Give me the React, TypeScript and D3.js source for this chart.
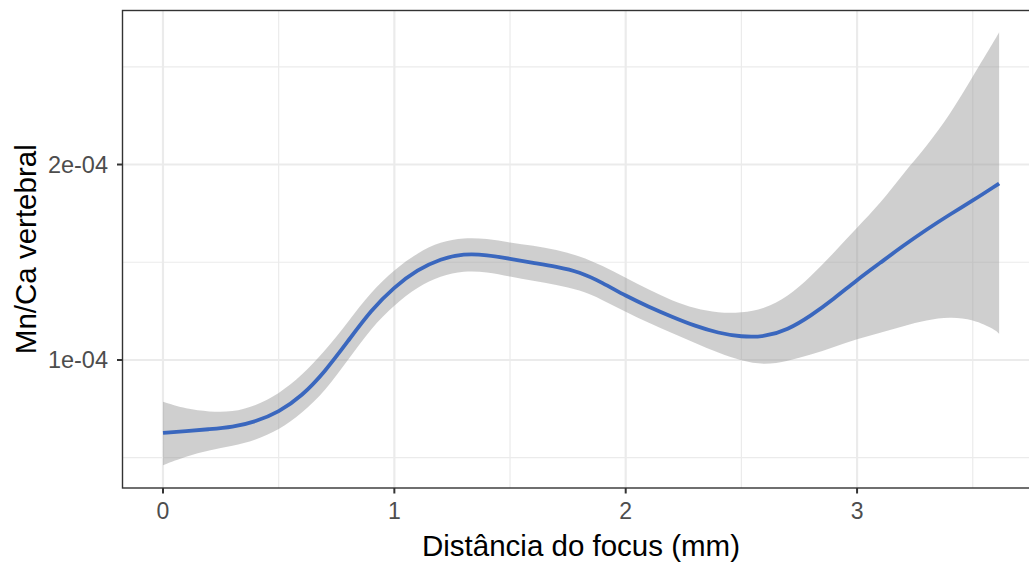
import React from 'react';
import * as d3 from 'd3';

// smooth fit, y in units of 1e-04
const xs = [0, 0.1, 0.2, 0.3, 0.4, 0.5, 0.6, 0.7, 0.8, 0.9, 1.0, 1.1, 1.2, 1.3, 1.4, 1.5, 1.6, 1.7, 1.8, 1.9, 2.0, 2.1, 2.2, 2.3, 2.4, 2.5, 2.6, 2.7, 2.8, 2.9, 3.0, 3.1, 3.2, 3.3, 3.4, 3.5, 3.6, 3.614];
const fit = [0.627, 0.636, 0.646, 0.656, 0.684, 0.733, 0.815, 0.94, 1.097, 1.256, 1.374, 1.462, 1.518, 1.544, 1.538, 1.518, 1.497, 1.477, 1.451, 1.395, 1.328, 1.272, 1.221, 1.174, 1.138, 1.118, 1.118, 1.154, 1.226, 1.313, 1.41, 1.497, 1.585, 1.667, 1.744, 1.815, 1.892, 1.903];
const upper = [0.786, 0.749, 0.735, 0.733, 0.765, 0.826, 0.92, 1.045, 1.195, 1.349, 1.462, 1.549, 1.605, 1.626, 1.621, 1.6, 1.585, 1.564, 1.533, 1.482, 1.421, 1.359, 1.303, 1.262, 1.241, 1.241, 1.262, 1.323, 1.426, 1.549, 1.677, 1.8, 1.954, 2.092, 2.251, 2.451, 2.646, 2.677];
const lower = [0.462, 0.508, 0.538, 0.559, 0.59, 0.641, 0.726, 0.84, 1.0, 1.164, 1.282, 1.374, 1.431, 1.456, 1.451, 1.426, 1.405, 1.385, 1.359, 1.308, 1.246, 1.19, 1.138, 1.087, 1.036, 0.995, 0.974, 0.995, 1.026, 1.067, 1.108, 1.138, 1.174, 1.205, 1.221, 1.21, 1.154, 1.133];

const xTicks = [0, 1, 2, 3];
const xMinor = [0.5, 1.5, 2.5, 3.5];
const yTicks = [1, 2];
const yTickLabels = ['1e-04', '2e-04'];
const yMinor = [0.5, 1.5, 2.5];

const W = 1029;
const H = 563;
const panel = { left: 122.5, right: 1041, top: 10.5, bottom: 488 };
const font = '"Liberation Sans", Arial, sans-serif';

const App = () => {
    const x = d3.scaleLinear().domain([-0.175, 3.795]).range([panel.left, panel.right]);
    const y = d3.scaleLinear().domain([0.345, 2.788]).range([panel.bottom, panel.top]);

    const rows = xs.map((v, i) => ({ x: v, fit: fit[i], lo: lower[i], hi: upper[i] }));

    const band = d3.area<any>()
        .x(d => x(d.x))
        .y0(d => y(d.lo))
        .y1(d => y(d.hi))
        .curve(d3.curveBasis);

    const line = d3.line<any>()
        .x(d => x(d.x))
        .y(d => y(d.fit))
        .curve(d3.curveBasis);

    return (
        <svg width={W} height={H} style={{ position: 'fixed', left: 0, top: 0, background: '#fff' }}>
            <rect x={0} y={0} width={W} height={H} fill="#fff" />
            {/* grid */}
            {xMinor.map(v => (
                <line key={'xm' + v} x1={x(v)} x2={x(v)} y1={panel.top} y2={panel.bottom} stroke="#EBEBEB" strokeWidth={1.2} />
            ))}
            {yMinor.map(v => (
                <line key={'ym' + v} x1={panel.left} x2={panel.right} y1={y(v)} y2={y(v)} stroke="#EBEBEB" strokeWidth={1.2} />
            ))}
            {xTicks.map(v => (
                <line key={'xg' + v} x1={x(v)} x2={x(v)} y1={panel.top} y2={panel.bottom} stroke="#EBEBEB" strokeWidth={2.2} />
            ))}
            {yTicks.map(v => (
                <line key={'yg' + v} x1={panel.left} x2={panel.right} y1={y(v)} y2={y(v)} stroke="#EBEBEB" strokeWidth={2.2} />
            ))}

            <path d={band(rows) || ''} fill="#999999" fillOpacity={0.47} />
            <path d={line(rows) || ''} fill="none" stroke="#3A67BE" strokeWidth={3.8} />

            <rect x={panel.left} y={panel.top} width={panel.right - panel.left} height={panel.bottom - panel.top}
                fill="none" stroke="#333333" strokeWidth={1.4} />

            {/* x axis */}
            {xTicks.map(v => (
                <g key={'xt' + v}>
                    <line x1={x(v)} x2={x(v)} y1={panel.bottom} y2={panel.bottom + 5.5} stroke="#333333" strokeWidth={2} />
                    <text x={x(v)} y={518.5} textAnchor="middle" fontFamily={font} fontSize={23} fill="#4D4D4D">{v}</text>
                </g>
            ))}
            {/* y axis */}
            {yTicks.map((v, i) => (
                <g key={'yt' + v}>
                    <line x1={panel.left - 5.5} x2={panel.left} y1={y(v)} y2={y(v)} stroke="#333333" strokeWidth={2} />
                    <text x={108} y={y(v)} dy="0.36em" textAnchor="end" fontFamily={font} fontSize={23.5} fill="#4D4D4D">{yTickLabels[i]}</text>
                </g>
            ))}

            <text x={581} y={556} textAnchor="middle" fontFamily={font} fontSize={29.5} fill="#000">
                Distância do focus (mm)
            </text>
            <text transform={`translate(36, ${(panel.top + panel.bottom) / 2}) rotate(-90)`} textAnchor="middle"
                fontFamily={font} fontSize={29.5} fill="#000">
                Mn/Ca vertebral
            </text>
        </svg>
    );
};

export default App;
